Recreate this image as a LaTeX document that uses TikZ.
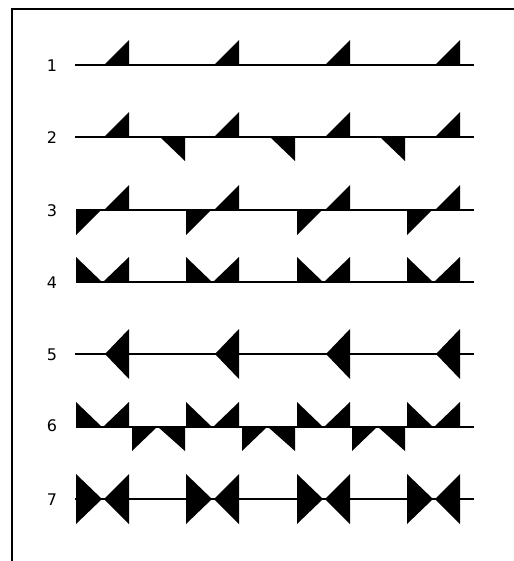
\documentclass[tikz,border=0pt]{standalone}
\usepackage{fontspec}
\setmainfont{DejaVu Sans}
\begin{document}
\begin{tikzpicture}[x=0.75pt,y=-0.75pt,
    base/.style={line width=1.5pt},
    tooth/.style={fill=black},
    rowlabel/.style={font=\fontsize{12}{14}\selectfont}]
    \useasboundingbox (0,0) rectangle (514,561);
    % Frame (left and top edges only)
    \draw[line width=1pt] (12,561) -- (12,9) -- (514,9);
    % Row labels
    \node[rowlabel] (L1) at (52,66) {1};
    \node[rowlabel] (L2) at (52,138) {2};
    \node[rowlabel] (L3) at (52,211) {3};
    \node[rowlabel] (L4) at (52,283) {4};
    \node[rowlabel] (L5) at (52,355) {5};
    \node[rowlabel] (L6) at (52,426) {6};
    \node[rowlabel] (L7) at (52,500) {7};
    % Base lines
    \draw[base] (75,65) -- (474,65);
    \draw[base] (75,137) -- (474,137);
    \draw[base] (76,210) -- (474,210);
    \draw[base] (76,282) -- (474,282);
    \draw[base] (75,354) -- (474,354);
    \draw[base] (76,427) -- (474,427);
    \draw[base] (75,499) -- (474,499);
    % Teeth, one group every 110px
    \foreach \d in {0,110,221,331} {
        % 1: teeth up
        \fill[tooth] (104+\d,65) -- (129+\d,40) -- (129+\d,65) -- cycle;
        % 2: teeth up
        \fill[tooth] (104+\d,137) -- (129+\d,112) -- (129+\d,137) -- cycle;
        % 3: tooth down and tooth up
        \fill[tooth] (76+\d,210) -- (101+\d,210) -- (76+\d,235) -- cycle;
        \fill[tooth] (104+\d,210) -- (129+\d,185) -- (129+\d,210) -- cycle;
        % 4: pair of teeth up
        \fill[tooth] (76+\d,257) -- (102+\d,282) -- (76+\d,282) -- cycle;
        \fill[tooth] (103+\d,282) -- (129+\d,257) -- (129+\d,282) -- cycle;
        % 5: pointing left
        \fill[tooth] (129+\d,329) -- (105+\d,354) -- (129+\d,379) -- cycle;
        % 6: pair of teeth up
        \fill[tooth] (76+\d,402) -- (102+\d,427) -- (76+\d,427) -- cycle;
        \fill[tooth] (103+\d,427) -- (129+\d,402) -- (129+\d,427) -- cycle;
        % 7: bow tie
        \fill[tooth] (76+\d,474) -- (102+\d,499) -- (76+\d,524) -- cycle;
        \fill[tooth] (129+\d,474) -- (104+\d,499) -- (129+\d,524) -- cycle;
    }
    \foreach \d in {0,110,220} {
        % 2: teeth down
        \fill[tooth] (160+\d,137) -- (185+\d,137) -- (185+\d,161) -- cycle;
        % 6: pair of teeth down
        \fill[tooth] (132+\d,427) -- (157+\d,427) -- (132+\d,451) -- cycle;
        \fill[tooth] (158+\d,427) -- (185+\d,427) -- (185+\d,451) -- cycle;
    }
\end{tikzpicture}
\end{document}
